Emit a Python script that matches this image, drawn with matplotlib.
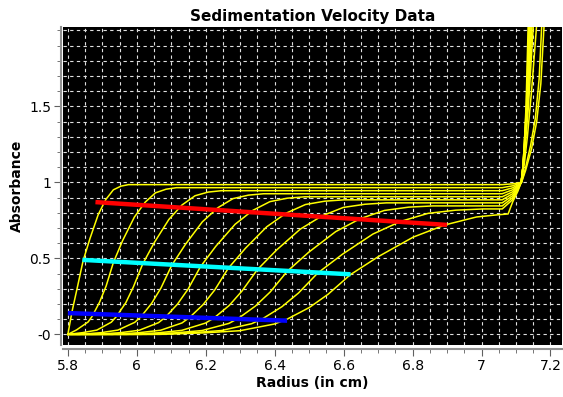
import numpy as np
import matplotlib
matplotlib.use('Agg')
from matplotlib import pyplot as plt
from matplotlib.ticker import FixedLocator, FixedFormatter, MultipleLocator

# scans: radius (cm) and absorbance
scan1_r = [5.800, 5.812, 5.829, 5.844, 5.864, 5.888, 5.910, 5.932, 5.954, 5.976, 6.500, 7.060, 7.090, 7.105, 7.116, 7.128, 7.145, 7.160, 7.172, 7.183]
scan1_a = [0.000, 0.150, 0.325, 0.483, 0.630, 0.788, 0.887, 0.951, 0.975, 0.985, 0.985, 0.985, 0.990, 0.995, 1.000, 1.080, 1.220, 1.400, 1.650, 2.100]

scan2_r = [5.800, 5.825, 5.859, 5.871, 5.892, 5.911, 5.932, 5.959, 5.993, 6.024, 6.054, 6.085, 6.115, 7.060, 7.090, 7.105, 7.116, 7.127, 7.142, 7.156, 7.167, 7.176]
scan2_a = [0.000, 0.029, 0.082, 0.121, 0.212, 0.318, 0.473, 0.618, 0.772, 0.869, 0.931, 0.955, 0.965, 0.965, 0.977, 0.990, 1.000, 1.090, 1.240, 1.420, 1.680, 2.100]

scan3_r = [5.800, 5.842, 5.884, 5.926, 5.941, 5.968, 5.990, 6.017, 6.051, 6.093, 6.131, 6.169, 6.207, 6.245, 7.060, 7.090, 7.105, 7.116, 7.124, 7.133, 7.145, 7.162]
scan3_a = [0.000, 0.011, 0.028, 0.080, 0.118, 0.208, 0.312, 0.463, 0.605, 0.756, 0.851, 0.912, 0.936, 0.945, 0.945, 0.964, 0.983, 1.000, 1.120, 1.300, 1.600, 2.100]

scan4_r = [5.800, 5.834, 5.896, 5.945, 5.994, 6.012, 6.043, 6.070, 6.101, 6.141, 6.190, 6.235, 6.279, 6.324, 6.368, 7.060, 7.090, 7.105, 7.115, 7.120, 7.127, 7.136, 7.152]
scan4_a = [0.000, 0.000, 0.011, 0.028, 0.079, 0.116, 0.204, 0.305, 0.453, 0.592, 0.740, 0.833, 0.893, 0.916, 0.925, 0.925, 0.951, 0.978, 1.000, 1.100, 1.250, 1.500, 2.100]

scan5_r = [5.800, 5.881, 5.952, 6.007, 6.063, 6.083, 6.118, 6.149, 6.184, 6.229, 6.285, 6.336, 6.386, 6.437, 6.487, 7.060, 7.090, 7.105, 7.115, 7.120, 7.126, 7.134, 7.148]
scan5_a = [0.000, 0.000, 0.011, 0.027, 0.077, 0.113, 0.199, 0.299, 0.443, 0.579, 0.724, 0.815, 0.873, 0.896, 0.905, 0.905, 0.938, 0.972, 1.000, 1.100, 1.250, 1.500, 2.100]

scan6_r = [5.800, 5.929, 6.007, 6.069, 6.131, 6.153, 6.192, 6.226, 6.265, 6.315, 6.377, 6.433, 6.489, 6.545, 6.601, 7.060, 7.090, 7.105, 7.115, 7.120, 7.125, 7.133, 7.145]
scan6_a = [0.000, 0.000, 0.011, 0.027, 0.075, 0.111, 0.195, 0.292, 0.434, 0.566, 0.708, 0.797, 0.854, 0.876, 0.885, 0.885, 0.925, 0.966, 1.000, 1.100, 1.250, 1.500, 2.100]

scan7_r = [5.800, 5.974, 6.061, 6.130, 6.199, 6.224, 6.268, 6.305, 6.349, 6.405, 6.474, 6.537, 6.599, 6.662, 6.724, 7.060, 7.090, 7.105, 7.115, 7.120, 7.125, 7.132, 7.142]
scan7_a = [0.000, 0.000, 0.010, 0.026, 0.074, 0.108, 0.190, 0.285, 0.424, 0.554, 0.692, 0.779, 0.835, 0.856, 0.865, 0.865, 0.912, 0.960, 1.000, 1.100, 1.250, 1.500, 2.100]

scan8_r = [5.800, 6.013, 6.112, 6.189, 6.267, 6.295, 6.344, 6.387, 6.436, 6.499, 6.577, 6.648, 6.718, 6.789, 6.859, 7.060, 7.090, 7.105, 7.115, 7.120, 7.124, 7.131, 7.140]
scan8_a = [0.000, 0.000, 0.010, 0.025, 0.072, 0.106, 0.186, 0.279, 0.414, 0.541, 0.676, 0.761, 0.815, 0.837, 0.845, 0.845, 0.899, 0.954, 1.000, 1.100, 1.250, 1.500, 2.100]

scan9_r = [5.800, 6.045, 6.157, 6.245, 6.333, 6.365, 6.421, 6.469, 6.525, 6.597, 6.685, 6.765, 6.845, 6.925, 7.005, 7.060, 7.090, 7.105, 7.115, 7.120, 7.124, 7.130, 7.138]
scan9_a = [0.000, 0.000, 0.010, 0.025, 0.070, 0.103, 0.182, 0.272, 0.404, 0.528, 0.660, 0.743, 0.796, 0.817, 0.825, 0.825, 0.886, 0.948, 1.000, 1.100, 1.250, 1.500, 2.100]

scan10_r = [5.800, 6.070, 6.198, 6.299, 6.399, 6.436, 6.500, 6.555, 6.619, 6.701, 6.802, 6.894, 6.985, 7.040, 7.077, 7.090, 7.105, 7.115, 7.120, 7.124, 7.129, 7.136]
scan10_a = [0.000, 0.000, 0.010, 0.024, 0.068, 0.100, 0.176, 0.264, 0.392, 0.512, 0.640, 0.720, 0.772, 0.785, 0.792, 0.870, 0.940, 1.000, 1.100, 1.250, 1.500, 2.100]

# boundary fit lines (upper, midpoint, lower)
upper_r = [5.880, 6.900]
upper_a = [0.870, 0.720]
mid_r = [5.842, 6.620]
mid_a = [0.490, 0.395]
lower_r = [5.800, 6.436]
lower_a = [0.140, 0.090]

x_ticks = [5.8, 6.0, 6.2, 6.4, 6.6, 6.8, 7.0, 7.2]
x_labels = ["5.8", "6", "6.2", "6.4", "6.6", "6.8", "7", "7.2"]
y_ticks = [0.0, 0.5, 1.0, 1.5]
y_labels = ["-0", "0.5", "1", "1.5"]

scans = [(scan1_r, scan1_a), (scan2_r, scan2_a), (scan3_r, scan3_a), (scan4_r, scan4_a),
         (scan5_r, scan5_a), (scan6_r, scan6_a), (scan7_r, scan7_a), (scan8_r, scan8_a),
         (scan9_r, scan9_a), (scan10_r, scan10_a)]

fig = plt.figure(figsize=(5.63, 3.97), dpi=100)
ax = fig.add_axes([0.112, 0.131, 0.886, 0.801])
ax.set_facecolor('black')

for r, a in scans:
    ax.plot(r, a, color='#ffff00', lw=1.1, solid_joinstyle='round')

ax.plot(upper_r, upper_a, color='#ff0000', lw=3.2, solid_capstyle='butt')
ax.plot(mid_r, mid_a, color='#00ffff', lw=3.2, solid_capstyle='butt')
ax.plot(lower_r, lower_a, color='#0000ff', lw=3.2, solid_capstyle='butt')

ax.set_xlim(5.786, 7.233)
ax.set_ylim(-0.070, 2.022)

ax.xaxis.set_major_locator(FixedLocator(x_ticks))
ax.xaxis.set_major_formatter(FixedFormatter(x_labels))
ax.xaxis.set_minor_locator(MultipleLocator(0.05))
ax.yaxis.set_major_locator(FixedLocator(y_ticks))
ax.yaxis.set_major_formatter(FixedFormatter(y_labels))
ax.yaxis.set_minor_locator(MultipleLocator(0.1))

ax.grid(True, which='both', color='#e0e0e0', lw=0.8, linestyle=(0, (3, 3)))
ax.set_axisbelow(True)

for side in ['top', 'right']:
    ax.spines[side].set_visible(False)
ax.spines['left'].set_position(('outward', 1.5))
ax.spines['bottom'].set_position(('outward', 3))
ax.spines['left'].set_color('#909090')
ax.spines['bottom'].set_color('#909090')
ax.spines['left'].set_linewidth(1.5)
ax.spines['bottom'].set_linewidth(1.5)

ax.tick_params(which='major', length=5, color='#606060', labelsize=10, pad=2)
ax.tick_params(which='minor', length=3, color='#606060')

ax.set_title("Sedimentation Velocity Data", fontsize=11, fontweight='bold', pad=4)
ax.set_xlabel("Radius (in cm)", fontsize=10, fontweight='bold', labelpad=2)
ax.set_ylabel("Absorbance", fontsize=10, fontweight='bold', labelpad=4)

fig.savefig('out.png', dpi=100)
